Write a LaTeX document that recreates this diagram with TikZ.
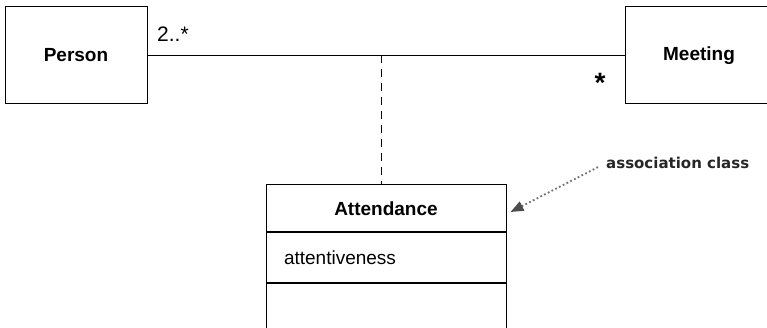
\documentclass[tikz,border=0pt]{standalone}
\usepackage{fontspec}
\setmainfont{Liberation Sans}
\newfontfamily\notefont{DejaVu Sans}
\usetikzlibrary{arrows.meta}
\begin{document}
\begin{tikzpicture}[x=1pt,y=-1pt,
  classbox/.style={draw, line width=1pt, inner sep=0pt, font=\fontsize{19}{21}\selectfont\bfseries},
  partbox/.style={draw, line width=1pt, inner ysep=0pt, inner xsep=18pt, text width=204pt, align=left, minimum width=240pt, font=\fontsize{19}{21}\selectfont},
  assoc/.style={line width=0.9pt},
  linkline/.style={line width=1pt, dash pattern=on 8pt off 6pt},
  mult/.style={font=\fontsize{21}{23}\selectfont, inner sep=0pt},
  notetext/.style={font=\notefont\bfseries\fontsize{15}{17}\selectfont, text=black!85, inner sep=0pt},
  notearrow/.style={black!55, line width=1.8pt, dash pattern=on 1.8pt off 2.4pt, shorten <=9pt,
    -{Triangle[length=13pt,width=10pt,fill=black!70,color=black!70]}}
]
\clip (0,0) rectangle (767,328);
\node[classbox, minimum width=142pt, minimum height=97pt] (person) at (76,55.5) {Person};
\node[classbox, minimum width=148pt, minimum height=97pt] (meeting) at (699,55.5) {Meeting};
\node[classbox, minimum width=240pt, minimum height=47pt] (att) at (386,208.5) {Attendance};
\node[partbox, minimum height=49pt, anchor=north] (attr) at (att.south) {attentiveness};
\node[partbox, minimum height=60pt, anchor=north] (ops) at (attr.south) {};
\draw[assoc] (person.east) -- (meeting.west);
\coordinate (mid) at (381,55.5);
\draw[linkline] (mid) -- (mid |- att.north);
\node[mult, anchor=base west] (m1) at (157,42) {2..*};
\node[mult, font=\fontsize{28}{28}\selectfont\bfseries] (m2) at (600,83) {*};
\node[notetext, anchor=west] (note) at (606,163) {association class};
\draw[notearrow] (note.west) -- ([xshift=4pt,yshift=-3.5pt]att.east);
\end{tikzpicture}
\end{document}
